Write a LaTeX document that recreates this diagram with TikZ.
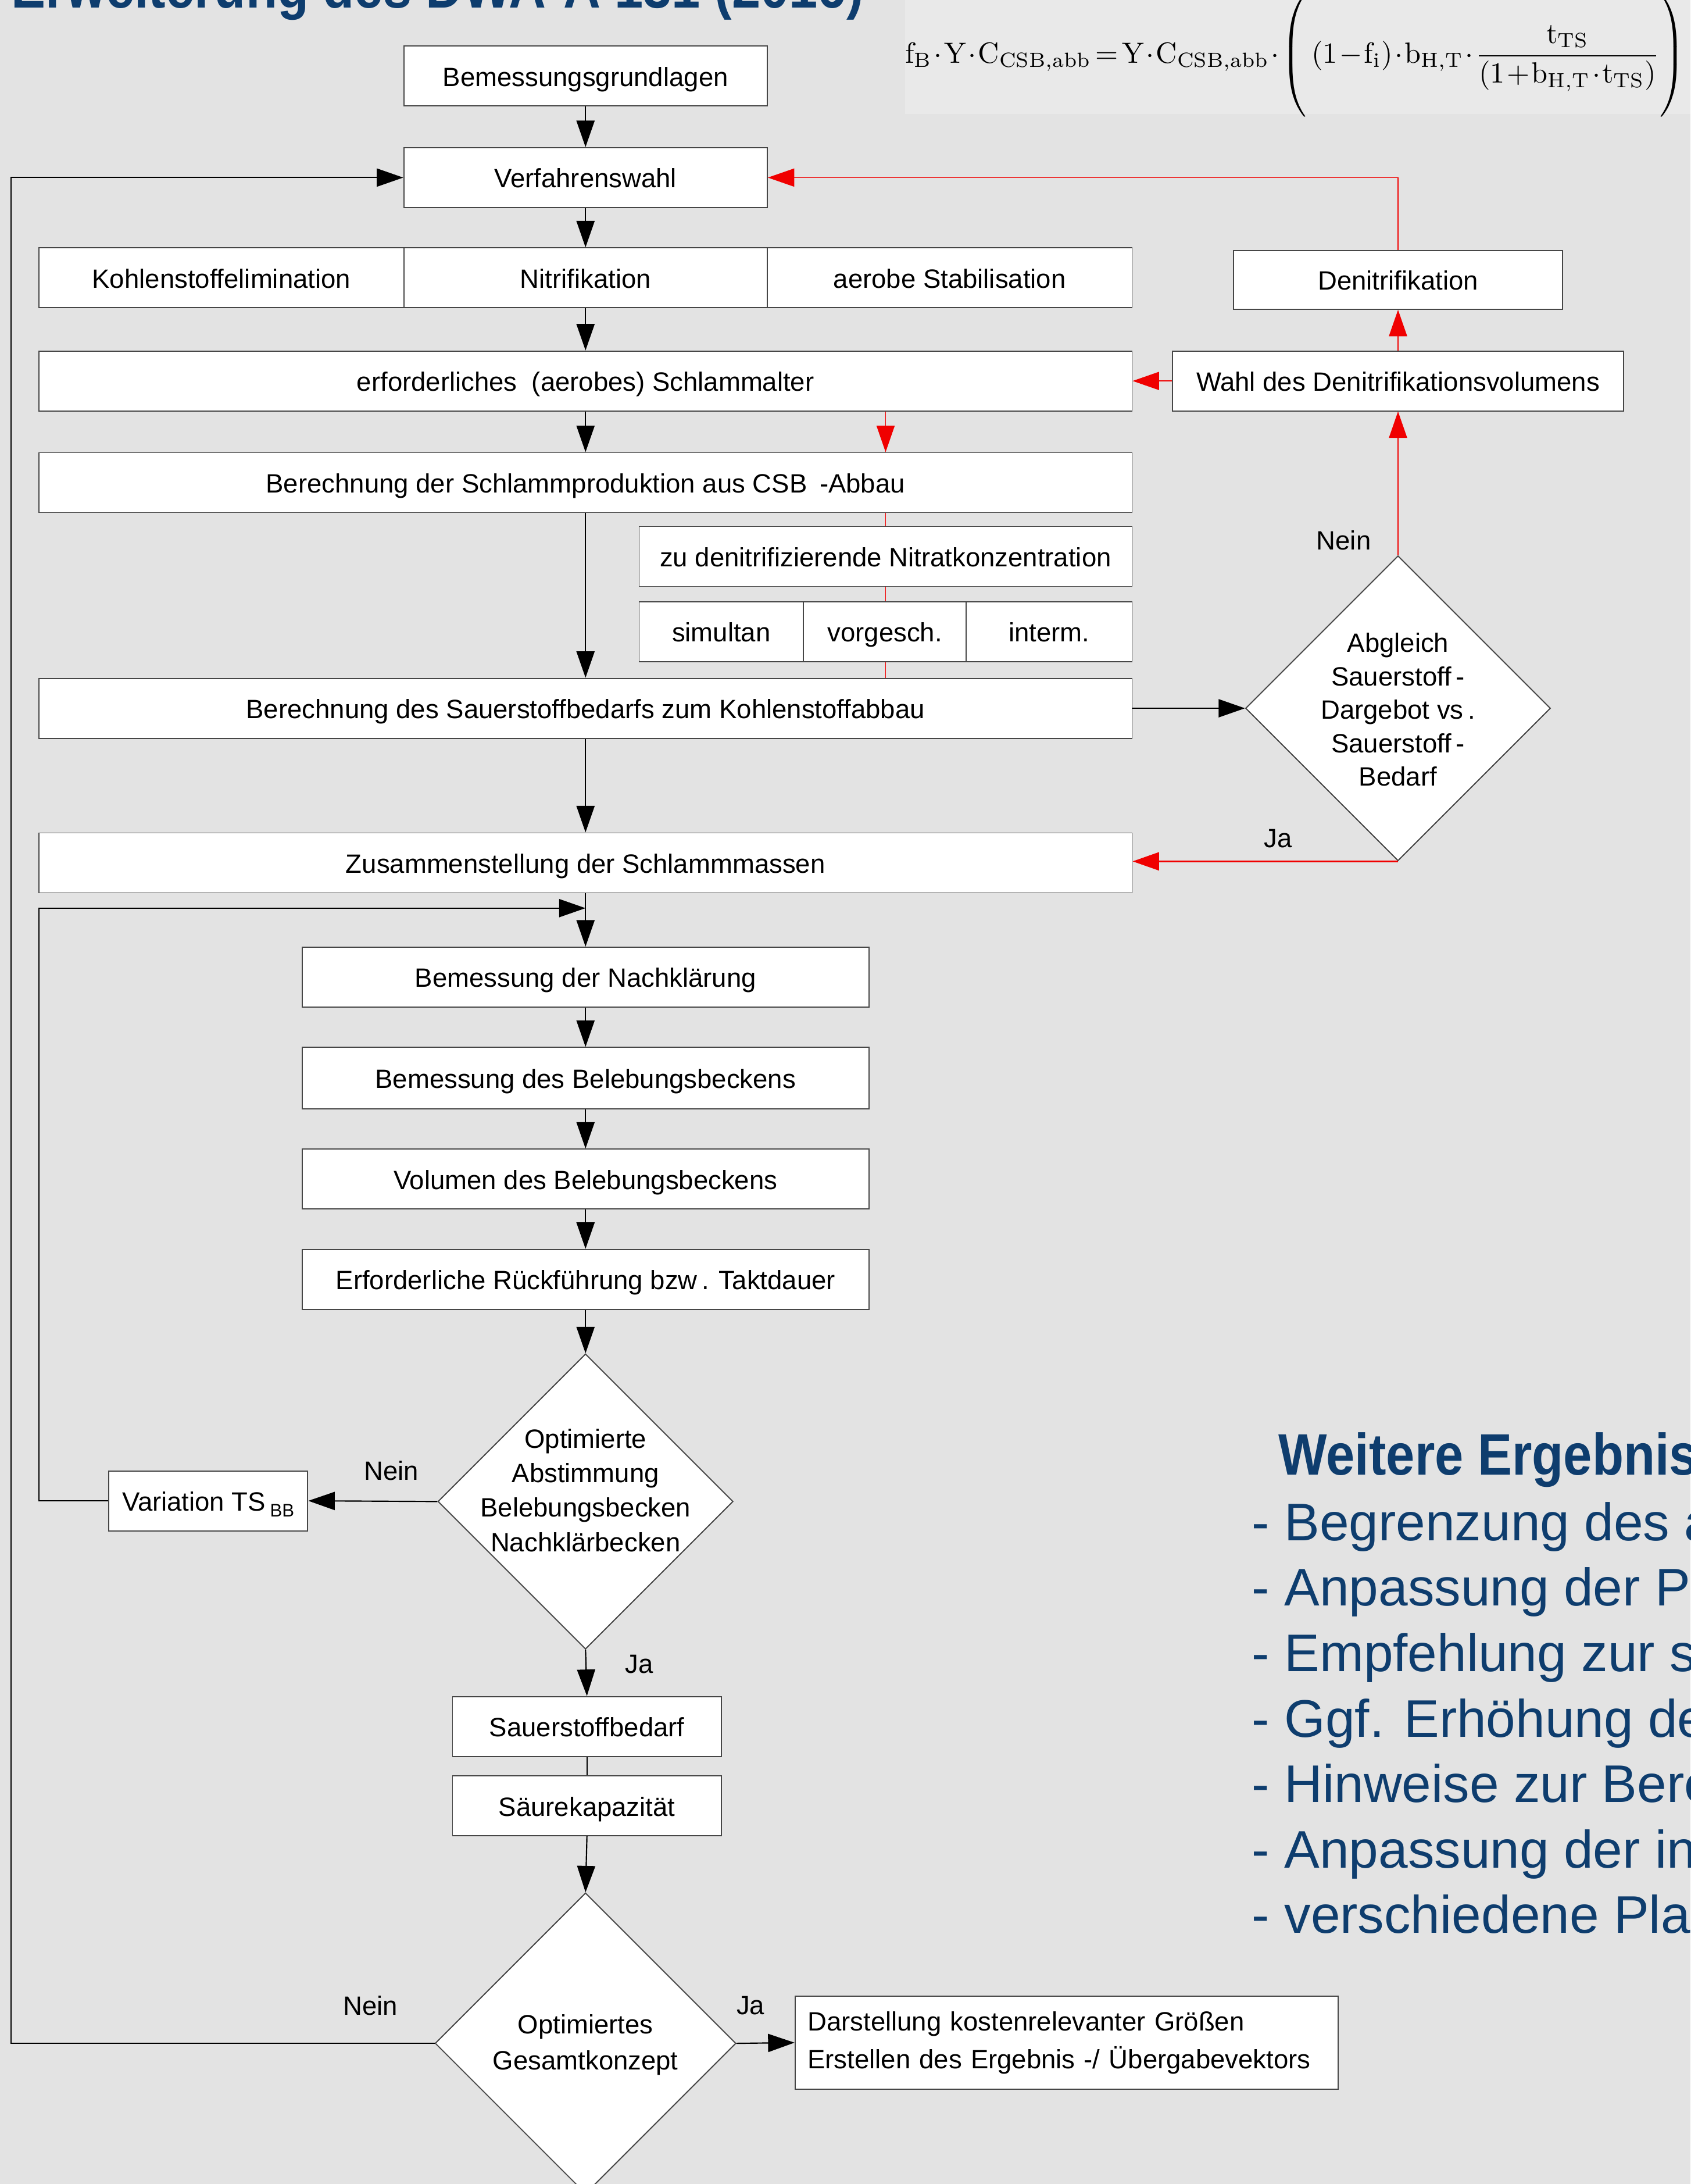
\documentclass[tikz,border=0pt]{standalone}
\usepackage{graphicx}
\usepackage{fontspec}
\usetikzlibrary{arrows.meta,shapes.geometric,calc}
\newfontfamily\arial{Liberation Sans}
\newfontfamily\headfont[FakeStretch=0.88]{Liberation Sans}
\definecolor{bg}{RGB}{227,227,227}
\definecolor{formbg}{RGB}{233,233,233}
\definecolor{bordercol}{RGB}{70,70,70}
\definecolor{darkblue}{RGB}{14,61,110}
\definecolor{redline}{RGB}{240,0,0}
\tikzset{
  boxbase/.style={draw=bordercol, fill=white, line width=0.8pt, inner sep=0pt,
    font=\arial\fontsize{19}{23}\selectfont, minimum height=43pt},
  box/.style={boxbase, text height=14.6pt, text depth=0pt},
  dia/.style={diamond, draw=bordercol, fill=white, line width=0.8pt, inner sep=0pt,
    minimum width=#1, minimum height=#1},
  dtext/.style={align=center, inner sep=0pt, font=\arial\fontsize{19}{24}\selectfont},
  lbl/.style={inner sep=0pt, font=\arial\fontsize{19}{23}\selectfont},
  arr/.style={draw=black, line width=0.9pt, -{Triangle[length=19pt,width=13pt]}},
  plain/.style={draw=black, line width=0.9pt},
  rarr/.style={draw=redline, line width=0.7pt, -{Triangle[length=19pt,width=13pt]}},
  rline/.style={draw=redline, line width=0.6pt},
  headtxt/.style={anchor=base west, inner sep=0pt, text=darkblue, font=\headfont\bfseries\fontsize{42}{48}\selectfont},
  listtxt/.style={anchor=base west, inner sep=0pt, text=darkblue, font=\arial\fontsize{38}{44}\selectfont}
}
\begin{document}
\begin{tikzpicture}[x=1pt,y=-1pt]
\useasboundingbox (0,0) rectangle (1214,1568);
\clip (0,0) rectangle (1214,1568);
\fill[bg] (0,0) rectangle (1214,1568);
\fill[formbg] (650,0) rectangle (1214,82);

% title (cut at the top)
\node[headtxt] (title) at (8,5.5) {Erweiterung des DWA-A 131 (2016)};

% formula
\node[anchor=west, inner sep=0pt] (formula) at (650,40) {\resizebox{560pt}{!}{\medmuskip=1.2mu plus 1mu\thickmuskip=2.5mu$\displaystyle
 \mathrm{f}_{\mathrm{B}}\cdot\mathrm{Y}\cdot\mathrm{C}_{\mathrm{CSB,abb}}
 =\mathrm{Y}\cdot\mathrm{C}_{\mathrm{CSB,abb}}\cdot
 \left(\rule[-18.5pt]{0pt}{42pt}\left(1-\mathrm{f}_{\mathrm{i}}\right)\cdot\mathrm{b}_{\mathrm{H,T}}\cdot
 \frac{\mathrm{t}_{\mathrm{TS}}}{\left(1+\mathrm{b}_{\mathrm{H,T}}\cdot\mathrm{t}_{\mathrm{TS}}\right)}\right)$}};

% main column
\node[box, minimum width=261pt] (grund) at (420.5,54.5) {Bemessungsgrundlagen};
\node[box, minimum width=261pt] (wahl) at (420.5,127.5) {Verfahrenswahl};
\node[box, minimum width=262pt] (kohl) at (159,199.5) {Kohlenstoffelimination};
\node[box, minimum width=261pt] (nitri) at (420.5,199.5) {Nitrifikation};
\node[box, minimum width=262pt] (aerob) at (682,199.5) {aerobe Stabilisation};
\node[box, minimum width=236pt, minimum height=42pt] (denit) at (1004,201) {Denitrifikation};
\node[box, minimum width=785pt] (alter) at (420.5,273.5) {erforderliches\ \ (aerobes) Schlammalter};
\node[box, minimum width=324pt] (dvol) at (1004,273.5) {Wahl des Denitrifikationsvolumens};
\node[box, minimum width=785pt] (prod) at (420.5,346.5) {Berechnung der Schlammproduktion aus CSB\hspace{9pt}-Abbau};
\node[box, minimum width=354pt] (nitrat) at (636,399.5) {zu denitrifizierende Nitratkonzentration};
\node[box, minimum width=118pt] (simul) at (518,453.5) {simultan};
\node[box, minimum width=117pt] (vorg) at (635.5,453.5) {vorgesch.};
\node[box, minimum width=119pt] (interm) at (753.5,453.5) {interm.};
\node[box, minimum width=785pt] (sauer) at (420.5,508.5) {Berechnung des Sauerstoffbedarfs zum Kohlenstoffabbau};
\node[dia=219pt] (d1) at (1004,508.5) {};
\node[dtext] (d1t) at (1004,509.5) {Abgleich\\Sauerstoff\,-\\Dargebot vs\,.\\Sauerstoff\,-\\Bedarf};
\node[box, minimum width=785pt] (zus) at (420.5,619.5) {Zusammenstellung der Schlammmassen};
\node[box, minimum width=407pt] (nach) at (420.5,701.5) {Bemessung der Nachklärung};
\node[box, minimum width=407pt, minimum height=44pt] (beleb) at (420.5,774) {Bemessung des Belebungsbeckens};
\node[box, minimum width=407pt] (vol) at (420.5,846.5) {Volumen des Belebungsbeckens};
\node[box, minimum width=407pt] (rueck) at (420.5,918.5) {Erforderliche Rückführung bzw\,. Taktdauer};
\node[dia=212pt] (d2) at (420.5,1078) {};
\node[dtext, font=\arial\fontsize{19}{24.7}\selectfont] (d2t) at (420.5,1070) {Optimierte\\Abstimmung\\Belebungsbecken\\Nachklärbecken};
\node[box, minimum width=143pt] (var) at (149.5,1077.5) {Variation TS\,\raisebox{-4pt}{\fontsize{13}{13}\selectfont BB}};
\node[box, minimum width=193pt] (sbed) at (421.5,1239.5) {Sauerstoffbedarf};
\node[box, minimum width=193pt] (saeure) at (421.5,1296.5) {Säurekapazität};
\node[dia=216pt] (d3) at (420.5,1467) {};
\node[dtext, font=\arial\fontsize{19}{26}\selectfont] (d3t) at (420.5,1468) {Optimiertes\\Gesamtkonzept};
\node[boxbase, minimum width=390pt, minimum height=67pt, text width=372pt, align=left, font=\arial\fontsize{19}{27}\selectfont] (darst) at (766,1466.5) {Darstellung kostenrelevanter Größen\\Erstellen des Ergebnis -/ Übergabevektors};

% helper coordinates
\coordinate (merge) at (420.5,652);
\coordinate (loopL) at (28,652);
\coordinate (outer) at (8,127.5);

% black connectors
\draw[arr] (grund.south) -- (wahl.north);
\draw[arr] (wahl.south) -- (nitri.north);
\draw[arr] (nitri.south) -- (alter.north);
\draw[arr] (alter.south) -- (prod.north);
\draw[arr] (prod.south) -- (sauer.north);
\draw[arr] (sauer.south) -- (zus.north);
\draw[arr] (sauer.east) -- (d1.west);
\draw[arr] (zus.south) -- (nach.north);
\draw[arr] (var.west) -| (loopL) -- (merge);
\draw[arr] (nach.south) -- (beleb.north);
\draw[arr] (beleb.south) -- (vol.north);
\draw[arr] (vol.south) -- (rueck.north);
\draw[arr] (rueck.south) -- (d2.north);
\draw[arr] (d2.west) -- (var.east);
\draw[arr] (d2.south) -- (sbed.north);
\draw[plain] (sbed.south) -- (saeure.north);
\draw[arr] (saeure.south) -- (d3.north);
\draw[arr] (d3.west) -| (outer) -- (wahl.west);
\draw[arr] (d3.east) -- (darst.west);

% red connectors
\draw[rarr] (alter.south -| nitrat.north) -- (prod.north -| nitrat.north);
\draw[rline] (prod.south -| nitrat.north) -- (nitrat.north);
\draw[rline] (nitrat.south) -- (vorg.north -| nitrat.south);
\draw[rline] (vorg.south -| nitrat.south) -- (sauer.north -| nitrat.south);
\draw[rarr] (d1.north) -- (dvol.south);
\draw[rarr] (dvol.north) -- (denit.south);
\draw[rarr] (dvol.west) -- (alter.east);
\draw[rarr] (denit.north) |- (wahl.east);
\draw[rarr, line width=1.2pt] (d1.south) -- (d1.south -| zus.east);

% labels
\node[lbl] (l1) at (965,388) {Nein};
\node[lbl] (l2) at (918,602) {Ja};
\node[lbl] (l3) at (281,1056) {Nein};
\node[lbl] (l4) at (459,1195) {Ja};
\node[lbl] (l5) at (266,1440) {Nein};
\node[lbl] (l6) at (539,1440) {Ja};

% further results (cut at the right edge)
\node[headtxt] (weit) at (918,1059) {Weitere Ergebnis};
\node[listtxt] (w1) at (899,1106) {- Begrenzung des a};
\node[listtxt] (w2) at (899,1153) {- Anpassung der Pr};
\node[listtxt] (w3) at (899,1200) {- Empfehlung zur s};
\node[listtxt] (w4) at (899,1247) {- Ggf. Erhöhung de};
\node[listtxt] (w5) at (899,1294) {- Hinweise zur Bere};
\node[listtxt] (w6) at (899,1341) {- Anpassung der in};
\node[listtxt] (w7) at (899,1388) {- verschiedene Pla};
\end{tikzpicture}
\end{document}
